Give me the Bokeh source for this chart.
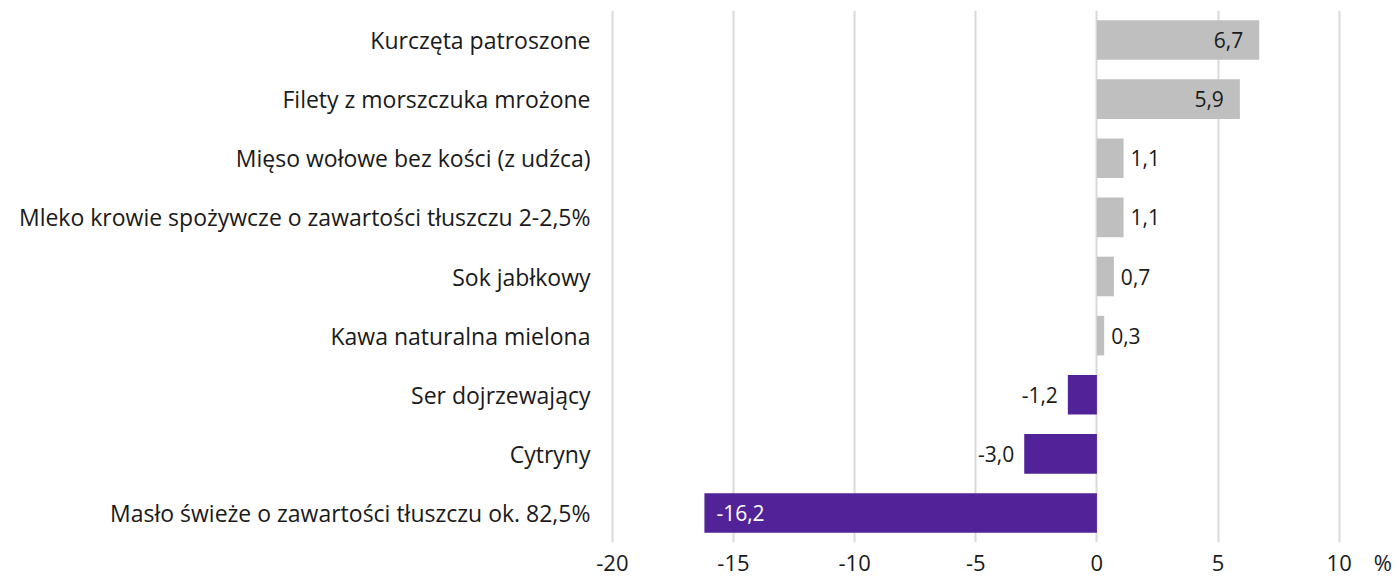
from bokeh.plotting import figure
from bokeh.models import FixedTicker, ColumnDataSource
from bokeh.embed import file_html
from bokeh.resources import INLINE
from bokeh.core.properties import value

categories = [
    "Kurczęta patroszone",
    "Filety z morszczuka mrożone",
    "Mięso wołowe bez kości (z udźca)",
    "Mleko krowie spożywcze o zawartości tłuszczu 2-2,5%",
    "Sok jabłkowy",
    "Kawa naturalna mielona",
    "Ser dojrzewający",
    "Cytryny",
    "Masło świeże o zawartości tłuszczu ok. 82,5%",
]
values = [6.7, 5.9, 1.1, 1.1, 0.7, 0.3, -1.2, -3.0, -16.2]
tick_values = [-20, -15, -10, -5, 0, 5, 10]
tick_labels = ["-20", "-15", "-10", "-5", "0", "5", "10"]
unit_label = "%"

GRAY = "#bfbfbf"
PURPLE = "#522398"
FONT = "Open Sans"

def fmt(v):
    return f"{v:.1f}".replace(".", ",")

p = figure(
    y_range=list(reversed(categories)),
    x_range=(-20.2, 12.2),
    frame_width=785, frame_height=532,
    min_border_left=607, min_border_top=10, min_border_right=0, min_border_bottom=0,
    output_backend="svg", toolbar_location=None,
)
p.outline_line_color = None
p.background_fill_color = "white"
p.border_fill_color = "white"

colors = [GRAY if v >= 0 else PURPLE for v in values]
src = ColumnDataSource(dict(cat=categories, val=values, col=colors))
p.hbar(y="cat", left=0, right="val", height=0.67, fill_color="col", line_color=None, source=src)

# value labels
groups = [
    (lambda v: v >= 5, "right", -16, "#1a1a1a"),
    (lambda v: 0 <= v < 5, "left", 7, "#1a1a1a"),
    (lambda v: -5 < v < 0, "right", -10, "#1a1a1a"),
    (lambda v: v <= -5, "left", 12, "white"),
]
for cond, align, off, color in groups:
    cats = [c for c, v in zip(categories, values) if cond(v)]
    vals = [v for v in values if cond(v)]
    if not cats:
        continue
    s = ColumnDataSource(dict(cat=cats, val=vals, txt=[fmt(v) for v in vals]))
    p.text(x="val", y="cat", text="txt", source=s, text_align=align, text_baseline="middle",
           x_offset=off, text_color=color, text_font=value(FONT), text_font_size="21px")

# axes
all_ticks = tick_values + [11.8]
p.xaxis.ticker = FixedTicker(ticks=all_ticks)
overrides = {t: l for t, l in zip(tick_values, tick_labels)}
overrides[11.8] = unit_label
p.xaxis.major_label_overrides = overrides
p.xaxis.axis_line_color = None
p.xaxis.major_tick_line_color = None
p.xaxis.minor_tick_line_color = None
p.xaxis.major_tick_in = 0
p.xaxis.major_tick_out = 0
p.xaxis.major_label_standoff = 4
p.xaxis.major_label_text_font = FONT
p.xaxis.major_label_text_font_size = "22px"
p.xaxis.major_label_text_color = "#1a1a1a"

p.yaxis.axis_line_color = None
p.yaxis.major_tick_line_color = None
p.yaxis.minor_tick_line_color = None
p.yaxis.major_tick_in = 0
p.yaxis.major_tick_out = 0
p.yaxis.major_label_standoff = 17
p.yaxis.major_label_text_font = FONT
p.yaxis.major_label_text_font_size = "23px"
p.yaxis.major_label_text_color = "#1a1a1a"

p.ygrid.grid_line_color = None
p.xgrid.ticker = FixedTicker(ticks=tick_values)
p.xgrid.grid_line_color = "#d9d9d9"
p.xgrid.grid_line_width = 2

open("out.html", "w").write(file_html(p, INLINE))
